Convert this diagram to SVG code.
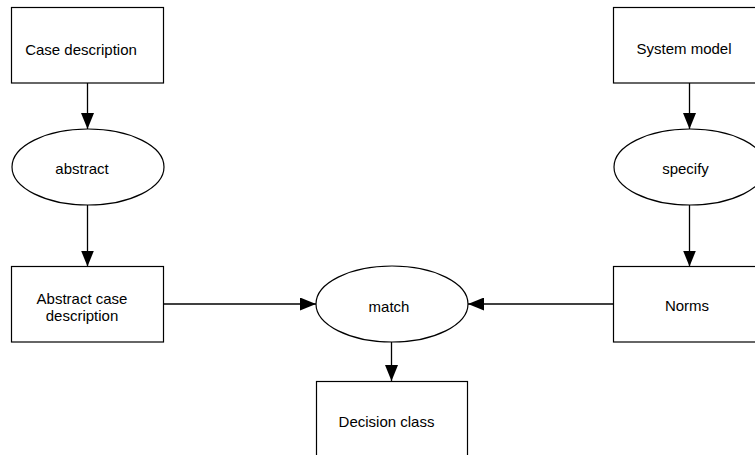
<svg xmlns="http://www.w3.org/2000/svg" width="755" height="455" viewBox="0 0 755 455">
<style>
.n{fill:#fff;stroke:#000;stroke-width:1.2}
.t{font-family:"Liberation Sans",Arial,sans-serif;font-size:15px;fill:#000;text-anchor:middle}
.c{fill:none;stroke:#000;stroke-width:1.3;marker-end:url(#ah)}
</style>
<defs>
<marker id="ah" markerUnits="userSpaceOnUse" markerWidth="16" markerHeight="13" refX="16" refY="6.5" orient="auto">
<path d="M0,0 L16,6.5 L0,13 z" fill="#000"/>
</marker>
</defs>
<rect width="755" height="455" fill="#fff"/>
<g id="connectors">
<line class="c" x1="87.5" y1="83" x2="87.5" y2="129"/>
<line class="c" x1="87.5" y1="205" x2="87.5" y2="266.5"/>
<line class="c" x1="164" y1="304" x2="316" y2="304"/>
<line class="c" x1="613" y1="304" x2="468" y2="304"/>
<line class="c" x1="689.5" y1="83" x2="689.5" y2="129"/>
<line class="c" x1="689.5" y1="205" x2="689.5" y2="266.5"/>
<line class="c" x1="391.5" y1="342" x2="391.5" y2="381"/>
</g>
<g id="case-description">
<rect class="n" x="11.5" y="7.5" width="152" height="75.5"/>
<text class="t" x="81" y="55">Case description</text>
</g>
<g id="abstract">
<ellipse class="n" cx="88" cy="167" rx="76" ry="38"/>
<text class="t" x="82" y="174">abstract</text>
</g>
<g id="abstract-case-description">
<rect class="n" x="11.5" y="266.5" width="152" height="75.5"/>
<text class="t" x="82" y="304">Abstract case</text>
<text class="t" x="82" y="320.5">description</text>
</g>
<g id="match">
<ellipse class="n" cx="392" cy="304" rx="76" ry="38"/>
<text class="t" x="389" y="311.5">match</text>
</g>
<g id="decision-class">
<rect class="n" x="316.5" y="381.5" width="151" height="76"/>
<text class="t" x="386.5" y="426.5">Decision class</text>
</g>
<g id="system-model">
<rect class="n" x="613.5" y="7.5" width="152" height="75.5"/>
<text class="t" x="684" y="54">System model</text>
</g>
<g id="specify">
<ellipse class="n" cx="690" cy="167" rx="76" ry="38"/>
<text class="t" x="685.5" y="173.5">specify</text>
</g>
<g id="norms">
<rect class="n" x="613.5" y="266.5" width="152" height="75.5"/>
<text class="t" x="687" y="311">Norms</text>
</g>
</svg>
